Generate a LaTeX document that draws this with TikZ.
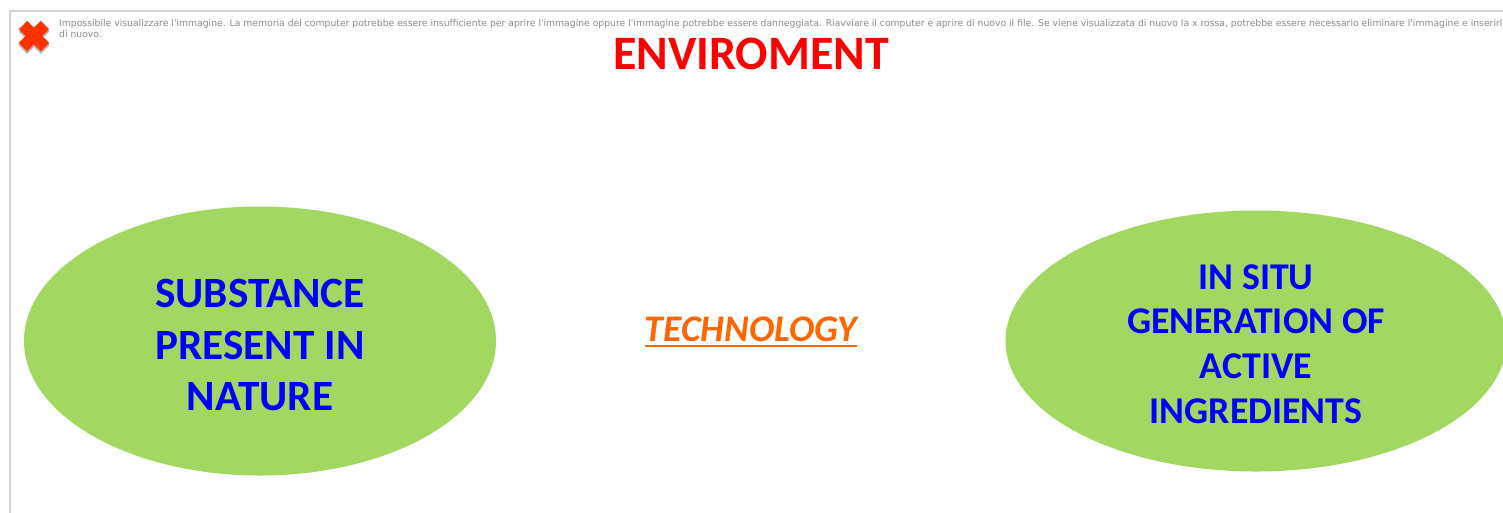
\documentclass[tikz,border=0pt]{standalone}
\usepackage{fontspec}
\setmainfont{Carlito}
\newfontfamily\msgfont{DejaVu Sans}
\usetikzlibrary{shapes.geometric,calc}
\definecolor{leaf}{HTML}{A2D762}
\definecolor{framegray}{HTML}{D4D4D4}
\definecolor{msggray}{HTML}{8C8C8C}
\definecolor{xred}{HTML}{FF3300}
\definecolor{techorange}{HTML}{FF6600}
\tikzset{
  x=1pt,y=-1pt,
  blob/.style={ellipse,fill=leaf,inner sep=0pt},
  bluetext/.style={text=blue,font=\bfseries\fontsize{43.2}{43}\selectfont,inner sep=0pt,anchor=base},
  bluesmall/.style={bluetext,font=\bfseries\fontsize{37.8}{38}\selectfont},
  msg/.style={text=msggray,font=\msgfont\fontsize{9.25}{10}\selectfont,inner sep=0pt,anchor=base west},
  xarm/.style={line width=12pt,xred}
}
\begin{document}
\begin{tikzpicture}
\useasboundingbox[clip] (0,0) rectangle (1503,512);
\fill[white] (0,0) rectangle (1503,512);
\draw[framegray,line width=2pt] (9.5,513) -- (9.5,11) -- (1504,11);
% red cross with soft shadow
\foreach \o/\c in {3/black!18,2/black!30}{
  \draw[line width=12pt,\c] (23,\o+25) -- (45,\o+47) (45,\o+25) -- (23,\o+47);
}
\draw[xarm] (23,25) -- (45,47) (45,25) -- (23,47);
\node[msg] (m1) at (59,26) {Impossibile visualizzare l'immagine. La memoria del computer potrebbe essere insufficiente per aprire l'immagine oppure l'immagine potrebbe essere danneggiata. Riavviare il computer e aprire di nuovo il file. Se viene visualizzata di nuovo la x rossa, potrebbe essere necessario eliminare l'immagine e inserirla};
\node[msg] (m2) at (59,37) {di nuovo.};
\node[text=red,font=\bfseries\fontsize{48}{48}\selectfont,inner sep=0pt,anchor=base] (title) at (751,69) {ENVIROMENT};
\node[blob,minimum width=472,minimum height=269] (left) at (260,341) {};
\node[blob,minimum width=501,minimum height=261] (right) at (1256,341) {};
\node[bluetext] (l1) at (260,307) {SUBSTANCE};
\node[bluetext] (l2) at (260,359) {PRESENT IN};
\node[bluetext] (l3) at (260,410) {NATURE};
\node[bluesmall] (r1) at (1256,289) {IN SITU};
\node[bluesmall] (r2) at (1256,333) {GENERATION OF};
\node[bluesmall] (r3) at (1256,378) {ACTIVE};
\node[bluesmall] (r4) at (1256,423) {INGREDIENTS};
\node[text=techorange,font=\bfseries\itshape\fontsize{37.6}{38}\selectfont,inner sep=0pt,anchor=base] (tech) at (751,341) {TECHNOLOGY};
\draw[techorange,line width=2.4pt] ($(tech.base west)+(0,5)$) -- ($(tech.base east)+(0,5)$);
\end{tikzpicture}
\end{document}
